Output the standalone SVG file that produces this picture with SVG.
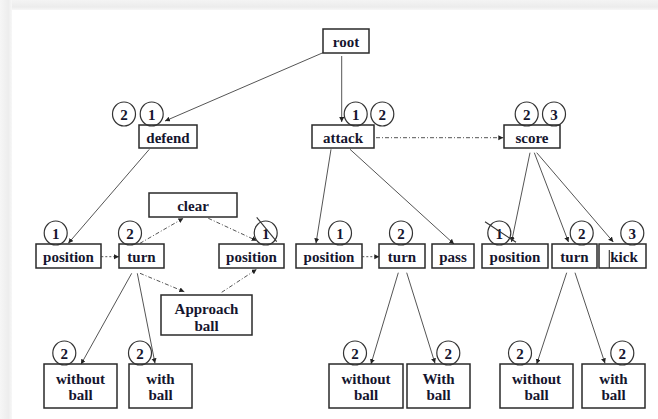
<svg xmlns="http://www.w3.org/2000/svg" width="658" height="419" viewBox="0 0 658 419">
<defs>
<linearGradient id="gTop" x1="0" y1="0" x2="0" y2="1"><stop offset="0" stop-color="#f4f4f4"/><stop offset="0.7" stop-color="#ececec"/><stop offset="1" stop-color="#f7f7f7"/></linearGradient>
<linearGradient id="gLeft" x1="0" y1="0" x2="1" y2="0"><stop offset="0" stop-color="#f6f6f6"/><stop offset="0.7" stop-color="#ededed"/><stop offset="1" stop-color="#f7f7f7"/></linearGradient>
<marker id="ah" markerUnits="userSpaceOnUse" markerWidth="6" markerHeight="6" refX="5" refY="2.5" orient="auto"><path d="M0,0 L5,2.5 L0,5 z" fill="#222"/></marker>
<style>
.box{fill:#fff;stroke:#2a2a2a;stroke-width:1.5}
.t{font-family:"Liberation Serif","Times New Roman",serif;font-weight:bold;font-size:15px;fill:#15152e;text-anchor:middle}
.c{fill:none;stroke:#333;stroke-width:1.2}
.e{fill:none;stroke:#555;stroke-width:1;marker-end:url(#ah)}
.dot{stroke-dasharray:2,2}
.dd{stroke-dasharray:4,2,1,2}
.sl{stroke:#333;stroke-width:1.1}
</style>
</defs>
<rect width="658" height="419" fill="#fff"/>
<rect x="0" y="0" width="658" height="10" fill="url(#gTop)"/>
<rect x="0" y="0" width="12" height="419" fill="url(#gLeft)"/>

<g id="connectors">
<line class="e" x1="323" y1="52.7" x2="165" y2="121"/>
<line class="e" x1="341.7" y1="56" x2="341.7" y2="122"/>
<line class="e dd" x1="376" y1="137.7" x2="503.3" y2="137.7"/>
<line class="e" x1="149.3" y1="149.3" x2="68.3" y2="243.3"/>
<line class="e dot" x1="101.3" y1="256.7" x2="119" y2="256.7"/>
<line class="e dd" x1="140" y1="243.3" x2="183.3" y2="218.3"/>
<line class="e dd" x1="208.3" y1="218.3" x2="256.7" y2="240.7"/>
<line class="e dd" x1="140" y1="273.3" x2="184.3" y2="291.7"/>
<line class="e dd" x1="221.7" y1="292.3" x2="256.7" y2="269.3"/>
<line class="e" x1="131.7" y1="273.3" x2="81" y2="364.3"/>
<line class="e" x1="137.3" y1="273.3" x2="155" y2="363.3"/>
<line class="e" x1="331" y1="149.3" x2="316" y2="243.3"/>
<line class="e" x1="350" y1="149.3" x2="454" y2="244"/>
<line class="e dot" x1="362.3" y1="256.7" x2="379.3" y2="256.7"/>
<line class="e" x1="398.3" y1="272.7" x2="371" y2="364"/>
<line class="e" x1="406.7" y1="272.7" x2="435" y2="363.3"/>
<line class="e" x1="530" y1="152.7" x2="511.5" y2="242"/>
<line class="e" x1="534.3" y1="152.7" x2="568.5" y2="242"/>
<line class="e" x1="536.7" y1="152.7" x2="613.3" y2="242"/>
<line class="e" x1="566.7" y1="272.7" x2="536.7" y2="364"/>
<line class="e" x1="575" y1="272.7" x2="605" y2="363.3"/>
</g>

<g id="root"><rect class="box" x="323" y="29" width="46" height="24"/><text class="t" x="346" y="46.5">root</text></g>

<g id="defend"><rect class="box" x="139" y="125" width="58" height="23"/><text class="t" x="168" y="142.5">defend</text>
<ellipse class="c" cx="124" cy="114" rx="11.5" ry="12"/><text class="t" x="124" y="119.5">2</text>
<ellipse class="c" cx="151.7" cy="114" rx="11.5" ry="12"/><text class="t" x="151.7" y="119.5">1</text></g>

<g id="attack"><rect class="box" x="312" y="125" width="62" height="23"/><text class="t" x="343" y="142.5">attack</text>
<ellipse class="c" cx="355.7" cy="114" rx="11.5" ry="12"/><text class="t" x="355.7" y="119.5">1</text>
<ellipse class="c" cx="382.3" cy="114" rx="11.5" ry="12"/><text class="t" x="382.3" y="119.5">2</text></g>

<g id="score"><rect class="box" x="504" y="125" width="56" height="23"/><text class="t" x="532" y="142.5">score</text>
<ellipse class="c" cx="526.7" cy="114" rx="11.5" ry="12"/><text class="t" x="526.7" y="119.5">2</text>
<ellipse class="c" cx="554" cy="114" rx="11.5" ry="12"/><text class="t" x="554" y="119.5">3</text></g>

<g id="defend-position"><rect class="box" x="36" y="244" width="65" height="24"/><text class="t" x="68.5" y="262">position</text>
<ellipse class="c" cx="55.7" cy="233" rx="11.5" ry="12"/><text class="t" x="55.7" y="238.5">1</text></g>

<g id="defend-turn"><rect class="box" x="119" y="244" width="45" height="24"/><text class="t" x="141.5" y="262">turn</text>
<ellipse class="c" cx="130" cy="233" rx="11.5" ry="12"/><text class="t" x="130" y="238.5">2</text></g>

<g id="clear"><rect class="box" x="149" y="193" width="88" height="24"/><text class="t" x="193" y="210.5">clear</text></g>

<g id="clear-position"><rect class="box" x="219" y="244" width="65" height="24"/><text class="t" x="251.5" y="262">position</text>
<ellipse class="c" cx="265.7" cy="233" rx="11.5" ry="12"/><text class="t" x="265.7" y="238.5">1</text>
<line class="sl" x1="256.7" y1="217.3" x2="276.7" y2="241.7"/></g>

<g id="approach-ball"><rect class="box" x="161" y="295" width="91" height="40"/><text class="t" x="206.5" y="314">Approach</text><text class="t" x="206.5" y="330.5">ball</text></g>

<g id="defend-without-ball"><rect class="box" x="44" y="364" width="73" height="44"/><text class="t" x="80.5" y="383.5">without</text><text class="t" x="80.5" y="400">ball</text>
<ellipse class="c" cx="64.3" cy="353" rx="11.5" ry="12"/><text class="t" x="64.3" y="358.5">2</text></g>

<g id="defend-with-ball"><rect class="box" x="129" y="364" width="63" height="44"/><text class="t" x="160.5" y="383.5">with</text><text class="t" x="160.5" y="400">ball</text>
<ellipse class="c" cx="140" cy="353" rx="11.5" ry="12"/><text class="t" x="140" y="358.5">2</text></g>

<g id="attack-position"><rect class="box" x="296" y="244" width="66" height="24"/><text class="t" x="329" y="262">position</text>
<ellipse class="c" cx="340" cy="233" rx="11.5" ry="12"/><text class="t" x="340" y="238.5">1</text></g>

<g id="attack-turn"><rect class="box" x="379" y="244" width="46" height="24"/><text class="t" x="402" y="262">turn</text>
<ellipse class="c" cx="401" cy="233" rx="11.5" ry="12"/><text class="t" x="401" y="238.5">2</text></g>

<g id="pass"><rect class="box" x="432" y="244" width="42" height="24"/><text class="t" x="453" y="262">pass</text></g>

<g id="score-position"><rect class="box" x="482" y="244" width="66" height="24"/><text class="t" x="515" y="262">position</text>
<ellipse class="c" cx="499.3" cy="233" rx="11.5" ry="12"/><text class="t" x="499.3" y="238.5">1</text>
<line class="sl" x1="485" y1="221.7" x2="516" y2="242.3"/></g>

<g id="score-turn"><rect class="box" x="552" y="244" width="45" height="24"/><text class="t" x="574.5" y="262">turn</text>
<ellipse class="c" cx="581.7" cy="233" rx="11.5" ry="12"/><text class="t" x="581.7" y="238.5">2</text></g>

<g id="kick"><rect class="box" x="599" y="244" width="47" height="24"/><text class="t" x="624" y="262">kick</text>
<line class="sl" x1="609.3" y1="250" x2="609.3" y2="268"/>
<ellipse class="c" cx="632.3" cy="233" rx="11.5" ry="12"/><text class="t" x="632.3" y="238.5">3</text></g>

<g id="attack-without-ball"><rect class="box" x="329" y="364" width="74" height="44"/><text class="t" x="366" y="383.5">without</text><text class="t" x="366" y="400">ball</text>
<ellipse class="c" cx="355" cy="353" rx="11.5" ry="12"/><text class="t" x="355" y="358.5">2</text></g>

<g id="attack-with-ball"><rect class="box" x="407" y="364" width="63" height="44"/><text class="t" x="438.5" y="383.5">With</text><text class="t" x="438.5" y="400">ball</text>
<ellipse class="c" cx="448.3" cy="353" rx="11.5" ry="12"/><text class="t" x="448.3" y="358.5">2</text></g>

<g id="score-without-ball"><rect class="box" x="500" y="364" width="73" height="44"/><text class="t" x="536.5" y="383.5">without</text><text class="t" x="536.5" y="400">ball</text>
<ellipse class="c" cx="520" cy="353" rx="11.5" ry="12"/><text class="t" x="520" y="358.5">2</text></g>

<g id="score-with-ball"><rect class="box" x="582" y="364" width="63" height="44"/><text class="t" x="613.5" y="383.5">with</text><text class="t" x="613.5" y="400">ball</text>
<ellipse class="c" cx="622.3" cy="353" rx="11.5" ry="12"/><text class="t" x="622.3" y="358.5">2</text></g>
</svg>
